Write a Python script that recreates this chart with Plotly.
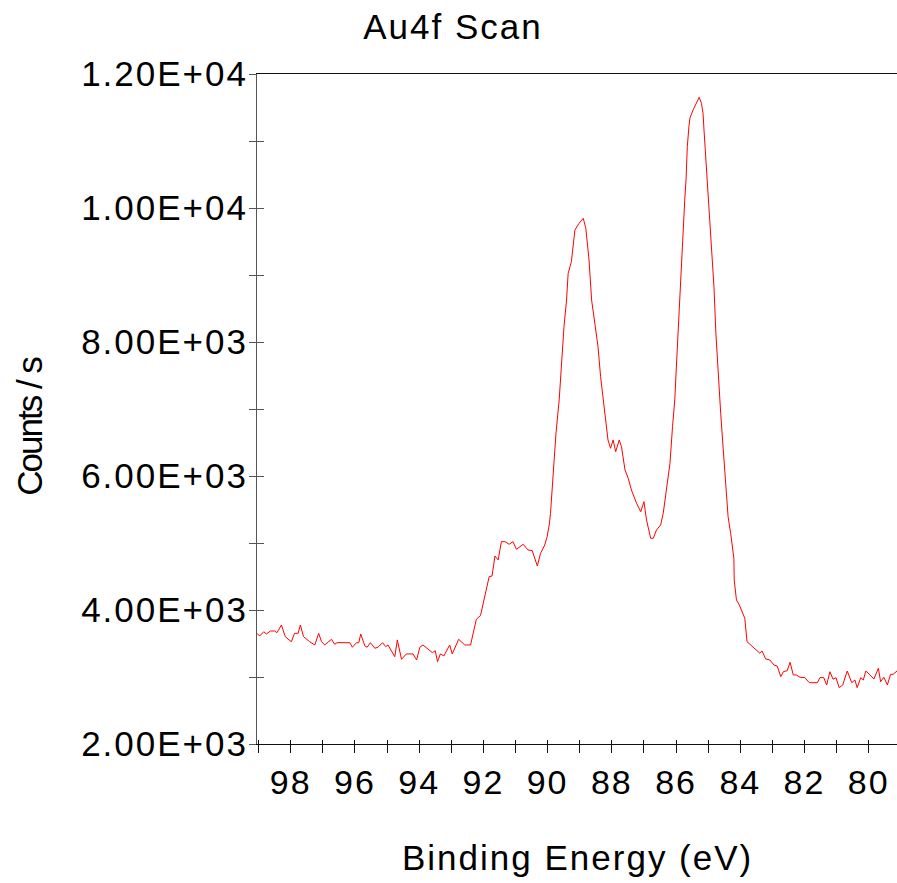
import plotly.graph_objects as go

# Au4f XPS scan
binding_energy = [
    99.05, 98.97, 98.84, 98.76, 98.63, 98.50, 98.43, 98.29, 98.17, 97.98,
    97.88, 97.77, 97.70, 97.60, 97.41, 97.25, 97.13, 97.04, 96.94, 96.73,
    96.63, 96.56, 96.16, 96.08, 95.95, 95.88, 95.82, 95.69, 95.62, 95.52,
    95.38, 95.28, 95.14, 95.04, 94.97, 94.86, 94.76, 94.68, 94.64, 94.55,
    94.40, 94.19, 94.08, 93.98, 93.88, 93.67, 93.59, 93.50, 93.43, 93.34,
    93.23, 93.05, 92.97, 92.77, 92.58, 92.40, 92.22, 92.09, 91.96, 91.82,
    91.73, 91.64, 91.54, 91.44, 91.33, 91.20, 91.08, 90.97, 90.76, 90.61,
    90.48, 90.40, 90.32, 90.22, 90.09, 90.02, 89.95, 89.91, 89.83, 89.74,
    89.64, 89.57, 89.49, 89.41, 89.36, 89.26, 89.21, 89.15, 89.02, 88.89,
    88.81, 88.71, 88.63, 88.56, 88.43, 88.35, 88.27, 88.20, 88.12, 88.04,
    87.96, 87.88, 87.77, 87.70, 87.59, 87.49, 87.39, 87.23, 87.10, 87.00,
    86.92, 86.79, 86.71, 86.61, 86.48, 86.40, 86.30, 86.19, 86.11, 86.04,
    85.98, 85.93, 85.88, 85.83, 85.78, 85.73, 85.69, 85.65, 85.60, 85.57,
    85.47, 85.36, 85.28, 85.21, 85.16, 85.13, 85.08, 85.03, 84.97, 84.89,
    84.82, 84.76, 84.69, 84.61, 84.53, 84.45, 84.38, 84.30, 84.20, 84.19,
    84.12, 84.03, 83.93, 83.86, 83.79, 83.65, 83.49, 83.39, 83.32, 83.21,
    83.08, 82.95, 82.85, 82.74, 82.66, 82.54, 82.45, 82.35, 82.25, 82.14,
    81.99, 81.92, 81.85, 81.60, 81.52, 81.40, 81.31, 81.21, 81.11, 81.02,
    80.92, 80.81, 80.67, 80.53, 80.43, 80.36, 80.25, 80.17, 80.09, 79.96,
    79.84, 79.70, 79.63, 79.53, 79.42, 79.32, 79.24, 79.11,
]
counts = [
    3652, 3612, 3676, 3642, 3687, 3687, 3661, 3776, 3602, 3527,
    3652, 3652, 3776, 3602, 3527, 3478, 3652, 3527, 3478, 3563,
    3488, 3512, 3512, 3444, 3512, 3512, 3642, 3463, 3444, 3512,
    3429, 3444, 3512, 3453, 3478, 3378, 3303, 3553, 3453, 3264,
    3344, 3344, 3254, 3444, 3478, 3393, 3363, 3393, 3229, 3344,
    3314, 3478, 3344, 3563, 3478, 3478, 3861, 3918, 4194, 4497,
    4508, 4806, 4747, 5020, 5020, 4981, 5020, 4906, 4981, 4896,
    4886, 4757, 4657, 4846, 4970, 5085, 5269, 5443, 6040, 6637,
    7135, 7631, 8228, 8627, 9025, 9199, 9473, 9672, 9772, 9846,
    9697, 9224, 8627, 8378, 7930, 7482, 7135, 6836, 6537, 6414,
    6537, 6363, 6537, 6438, 6090, 5966, 5791, 5593, 5467, 5617,
    5343, 5070, 5070, 5194, 5269, 5443, 5791, 6190, 6736, 7135,
    7732, 8228, 8727, 9224, 9776, 10119, 10418, 10915, 11213, 11339,
    11463, 11587, 11652, 11563, 11413, 11164, 10766, 10318, 10020, 9373,
    8826, 8130, 7533, 6936, 6388, 5891, 5393, 5145, 4772, 4448,
    4150, 4075, 3951, 3876, 3527, 3467, 3403, 3354, 3388, 3269,
    3254, 3179, 3164, 3005, 3079, 3094, 3220, 3030, 3030, 2996,
    2990, 2955, 2915, 2915, 2990, 2990, 2881, 3079, 2966, 2990,
    2840, 2881, 3090, 2915, 2955, 2840, 2990, 2955, 3090, 3030,
    2970, 3130, 2930, 2996, 2881, 3040, 3040, 3094,
]

x_tick_values = [98, 96, 94, 92, 90, 88, 86, 84, 82, 80]
x_tick_labels = ["98", "96", "94", "92", "90", "88", "86", "84", "82", "80"]
y_tick_values = [2000, 4000, 6000, 8000, 10000, 12000]
y_tick_labels = ["2.00E+03", "4.00E+03", "6.00E+03", "8.00E+03", "1.00E+04", "1.20E+04"]

FONT = "Liberation Sans, Arial, sans-serif"
x_range = [99.05, 79.12]
y_range = [2000, 12000]


def spaced(s, px=2):
    return '<span style="letter-spacing:%spx">%s</span>' % (px, s)


fig = go.Figure()
fig.add_trace(go.Scatter(x=binding_energy, y=counts, mode="lines",
                         line=dict(color="#ff0000", width=1), showlegend=False))
# same data on the overlay axes, only there so the inner tick halves get drawn
fig.add_trace(go.Scatter(x=binding_energy, y=counts, mode="lines", xaxis="x2", yaxis="y2",
                         line=dict(color="rgba(0,0,0,0)", width=0), showlegend=False,
                         hoverinfo="skip"))

fig.update_layout(
    width=897, height=883,
    margin=dict(l=257, r=0, t=74, b=139, autoexpand=False),
    paper_bgcolor="white", plot_bgcolor="white",
    font=dict(family=FONT, size=35, color="black"),
    title=dict(text=spaced("Au4f Scan"), x=453 / 897, xanchor="center",
               y=1 - 27 / 883, yanchor="middle", yref="container", automargin=False,
               font=dict(family=FONT, size=35, color="black")),
    xaxis=dict(range=x_range, showgrid=False, zeroline=False, automargin=False,
               showline=True, linecolor="#111", linewidth=1, mirror=True,
               tickvals=x_tick_values, ticktext=[spaced(t) for t in x_tick_labels],
               ticks="outside", ticklen=8, tickcolor="#111", tickwidth=1,
               minor=dict(dtick=1, tick0=80, ticks="outside", ticklen=8,
                          tickcolor="#111", tickwidth=1),
               tickfont=dict(family=FONT, size=34, color="black")),
    yaxis=dict(range=y_range, showgrid=False, zeroline=False, automargin=False,
               showline=True, linecolor="#555", linewidth=1,
               tickvals=y_tick_values, ticktext=[spaced(t) for t in y_tick_labels],
               ticks="outside", ticklen=7, tickcolor="#555", tickwidth=1,
               ticklabelstandoff=-6,
               minor=dict(dtick=1000, tick0=0, ticks="outside", ticklen=7,
                          tickcolor="#555", tickwidth=1),
               tickfont=dict(family=FONT, size=35, color="black")),
    xaxis2=dict(range=x_range, overlaying="x", anchor="y", side="bottom", automargin=False,
                showgrid=False, zeroline=False, showline=False, showticklabels=False,
                tickvals=x_tick_values, ticks="inside", ticklen=4, tickcolor="#111",
                minor=dict(dtick=1, tick0=80, ticks="inside", ticklen=4, tickcolor="#111")),
    yaxis2=dict(range=y_range, overlaying="y", anchor="x", side="left", automargin=False,
                showgrid=False, zeroline=False, showline=False, showticklabels=False,
                tickvals=y_tick_values, ticks="inside", ticklen=7, tickcolor="#555",
                minor=dict(dtick=1000, tick0=0, ticks="inside", ticklen=7, tickcolor="#555")),
    annotations=[
        dict(text=spaced("Binding Energy (eV)"), xref="paper", yref="paper",
             x=0.5, y=-0.1687, xanchor="center", yanchor="middle", showarrow=False,
             font=dict(family=FONT, size=35, color="black")),
        dict(text=spaced("Counts / s", -2), xref="paper", yref="paper", textangle=-90,
             x=-0.3547, y=0.475, xanchor="center", yanchor="middle", showarrow=False,
             font=dict(family="Liberation Sans Narrow, " + FONT, size=35, color="black")),
    ],
)

# drop the default page margin so the figure fills the window exactly
fig.write_html("out.html", config={"displayModeBar": False},
               post_script="document.body.style.margin='0';"
                           "document.documentElement.style.overflow='hidden';")
